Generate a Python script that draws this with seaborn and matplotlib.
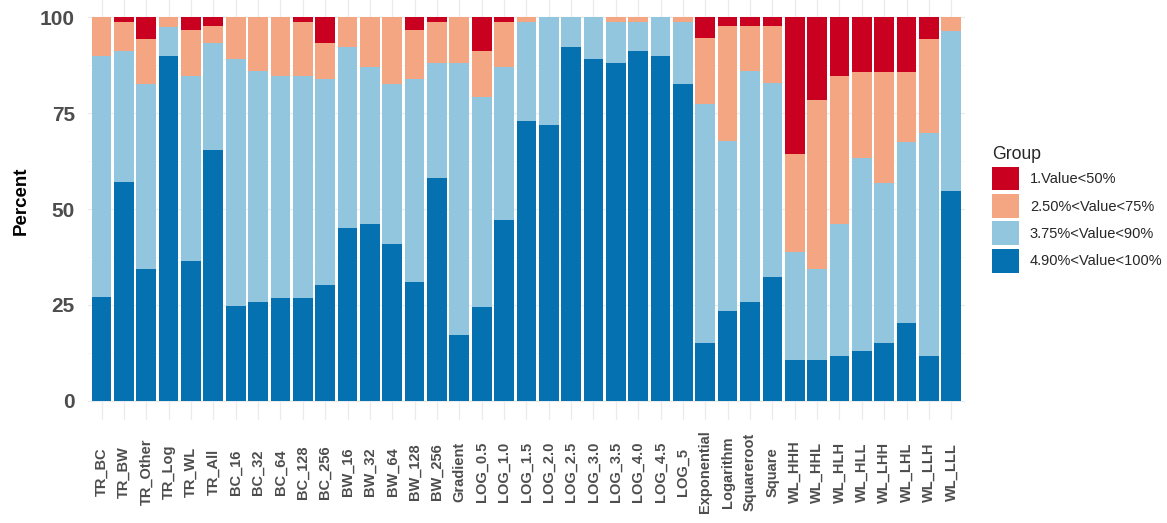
import numpy as np
import pandas as pd
import matplotlib
matplotlib.use("Agg")
import matplotlib.pyplot as plt
import seaborn as sns

# Methods along the x axis
methods = [
    "TR_BC", "TR_BW", "TR_Other", "TR_Log", "TR_WL", "TR_All",
    "BC_16", "BC_32", "BC_64", "BC_128", "BC_256",
    "BW_16", "BW_32", "BW_64", "BW_128", "BW_256",
    "Gradient",
    "LOG_0.5", "LOG_1.0", "LOG_1.5", "LOG_2.0", "LOG_2.5", "LOG_3.0",
    "LOG_3.5", "LOG_4.0", "LOG_4.5", "LOG_5",
    "Exponential", "Logarithm", "Squareroot", "Square",
    "WL_HHH", "WL_HHL", "WL_HLH", "WL_HLL", "WL_LHH", "WL_LHL", "WL_LLH", "WL_LLL",
]

groups = ["1.Value<50%", "2.50%<Value<75%", "3.75%<Value<90%", "4.90%<Value<100%"]

# Percent of cases falling in each group, per method
pct_lt50 = [0, 1.2, 5.6, 0, 3.3, 2.1,
            0, 0, 0, 1.2, 6.6,
            0, 0, 0, 3.3, 1.2,
            0,
            8.7, 1.2, 0, 0, 0, 0, 0, 0, 0, 0,
            5.4, 2.1, 2.1, 2.1,
            35.6, 21.5, 15.3, 14.1, 14.1, 14.1, 5.6, 0]
pct_50_75 = [10, 7.5, 11.7, 2.4, 11.9, 4.5,
             10.9, 14, 15.2, 14, 9.5,
             7.6, 13, 17.3, 12.8, 10.7,
             11.9,
             12.1, 11.8, 1.2, 0, 0, 0, 1.2, 1.2, 0, 1.2,
             17.2, 30.1, 11.9, 15.1,
             25.5, 44.1, 38.5, 22.6, 29, 18.3, 24.6, 3.4]
pct_75_90 = [63, 34.3, 48.3, 7.6, 48.3, 28,
             64.3, 60.3, 58, 58, 53.8,
             47.4, 40.9, 41.8, 52.8, 30,
             71,
             54.6, 39.8, 25.7, 28, 7.6, 10.9, 10.6, 7.5, 10, 16.1,
             62.4, 44.3, 60.3, 50.6,
             28.2, 23.7, 34.5, 50.4, 41.9, 47.2, 58.1, 41.8]
pct_90_100 = [27, 57, 34.4, 90, 36.5, 65.4,
              24.8, 25.7, 26.8, 26.8, 30.1,
              45, 46.1, 40.9, 31.1, 58.1,
              17.1,
              24.6, 47.2, 73.1, 72, 92.4, 89.1, 88.2, 91.3, 90, 82.7,
              15, 23.5, 25.7, 32.2,
              10.7, 10.7, 11.7, 12.9, 15, 20.4, 11.7, 54.8]

palette = ["#CA0020", "#F4A582", "#92C5DE", "#0571B0"]

# Long-form table for seaborn
frames = []
for g, vals in zip(groups, [pct_lt50, pct_50_75, pct_75_90, pct_90_100]):
    frames.append(pd.DataFrame({"Method": methods, "Group": g, "Percent": vals}))
df = pd.concat(frames, ignore_index=True)
df["Method"] = pd.Categorical(df["Method"], categories=methods, ordered=True)

sns.set_theme(style="white")
plt.rcParams["font.family"] = ["Liberation Sans", "DejaVu Sans"]

W, H = 1167, 523
fig = plt.figure(figsize=(W / 100, H / 100), dpi=100)
ax = fig.add_axes([88.1 / W, (H - 420) / H, 876.6 / W, 421.7 / H])

sns.histplot(
    data=df, x="Method", weights="Percent", hue="Group", hue_order=groups,
    multiple="stack", discrete=True, shrink=0.88, palette=palette,
    alpha=1, linewidth=0, ax=ax,
)

ax.set_xlim(-0.6, len(methods) - 0.4)
ax.set_ylim(-5, 105)
ax.set_yticks([0, 25, 50, 75, 100])
ax.set_yticks([12.5, 37.5, 62.5, 87.5], minor=True)
ax.set_xticks(range(len(methods)))
ax.set_xticklabels(methods)

ax.set_axisbelow(True)
ax.grid(True, which="major", color="#EBEBEB", lw=0.9)
ax.grid(True, which="minor", axis="y", color="#F3F3F3", lw=0.5)
for s in ax.spines.values():
    s.set_visible(False)

ax.tick_params(axis="y", which="both", length=0, pad=9.5, labelsize=15, labelcolor="#4D4D4D")
ax.tick_params(axis="x", which="both", length=0, pad=37.5, labelsize=10.5, labelcolor="#4D4D4D")
for lbl in ax.get_yticklabels():
    lbl.set_fontweight("bold")
for lbl in ax.get_xticklabels():
    lbl.set_rotation(90)
    lbl.set_ha("center")
    lbl.set_va("center")
    lbl.set_fontweight("bold")

ax.set_xlabel("")
ax.set_ylabel("Percent", fontsize=13.5, fontweight="bold", color="black")
ax.yaxis.set_label_coords((30 - 88.1) / 876.6, (420 - 201) / 421.7)

sns.move_legend(
    ax, "upper left",
    bbox_to_anchor=(992 / W, 1 - 146 / H), bbox_transform=fig.transFigure,
    title="Group", frameon=False, fontsize=10.5, title_fontsize=12.7,
    handlelength=1.85, handleheight=2.15, labelspacing=0.24,
    handletextpad=0.75, borderpad=0, borderaxespad=0, alignment="left",
)

fig.savefig("out.png", dpi=100, facecolor="white")
